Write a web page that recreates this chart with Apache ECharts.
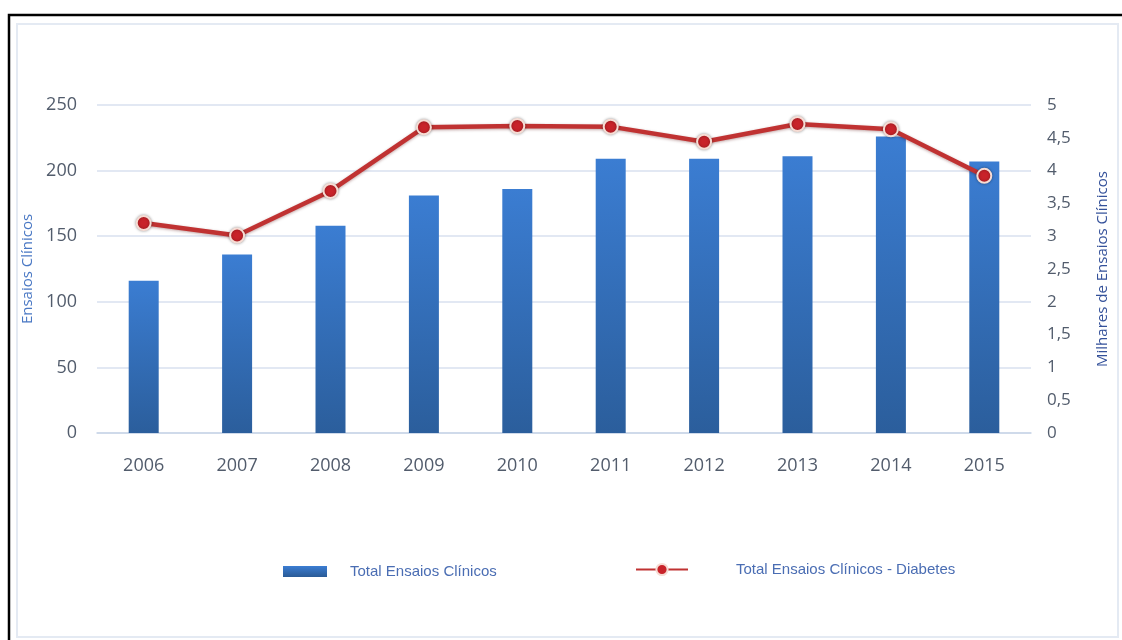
<!DOCTYPE html>
<html>
<head>
<meta charset="utf-8">
<script src="https://cdn.jsdelivr.net/npm/echarts@6/dist/echarts.min.js"></script>
<style>
  html, body { margin: 0; padding: 0; background: #ffffff; }
  #chart { width: 1122px; height: 640px; }
</style>
</head>
<body>
<div id="chart"></div>
<script>
// Anos
const years = ['2006', '2007', '2008', '2009', '2010', '2011', '2012', '2013', '2014', '2015'];
// Total de ensaios clínicos (eixo esquerdo)
const totalEnsaios = [116, 136, 158, 181, 186, 209, 209, 211, 226, 207];
// Ensaios clínicos em diabetes, em milhares (eixo direito)
const ensaiosDiabetes = [3.20, 3.01, 3.69, 4.66, 4.68, 4.67, 4.44, 4.71, 4.63, 3.92];

const seriesNames = ['Total Ensaios Clínicos', 'Total Ensaios Clínicos - Diabetes'];

const barGradient = new echarts.graphic.LinearGradient(0, 0, 0, 1, [
  { offset: 0, color: '#3b7dd2' },
  { offset: 1, color: '#2b5e9c' }
]);
const legendBarGradient = new echarts.graphic.LinearGradient(0, 0, 0, 1, [
  { offset: 0, color: '#3b7dd2' },
  { offset: 1, color: '#2a5a96' }
]);

const chart = echarts.init(document.getElementById('chart'), null, { renderer: 'canvas' });

const labelFont = 'Open Sans, Noto Sans, sans-serif';
const legendFont = 'Liberation Sans Narrow, Liberation Sans, sans-serif';

chart.setOption({
  backgroundColor: '#ffffff',
  animation: false,
  graphic: [
    // moldura exterior
    { type: 'polyline', shape: { points: [[9, 640], [9, 15], [1122, 15]] },
      style: { stroke: '#000000', lineWidth: 2.5, fill: null }, silent: true },
    // moldura interior clara
    { type: 'rect', shape: { x: 17, y: 24, width: 1101, height: 613 },
      style: { stroke: '#e4eaf3', lineWidth: 2, fill: null }, silent: true }
  ],
  grid: { left: 97, right: 91, top: 105, bottom: 207, containLabel: false },
  legend: [
    {
      data: [{ name: seriesNames[0], icon: 'rect', itemStyle: { color: legendBarGradient } }],
      left: 278, top: 559, itemWidth: 44, itemHeight: 11,
      textStyle: { color: '#4a6db3', fontSize: 15, fontFamily: legendFont, padding: [0, 0, 0, 18] }
    },
    {
      data: [seriesNames[1]],
      left: 630, top: 557, itemWidth: 52, itemHeight: 14,
      textStyle: { color: '#4a6db3', fontSize: 15, fontFamily: legendFont, padding: [0, 0, 0, 43] }
    }
  ],
  xAxis: {
    type: 'category',
    data: years,
    axisLine: { show: true, lineStyle: { color: '#c9d5e8', width: 1.5 } },
    axisTick: { show: false },
    axisLabel: { color: '#525c6c', fontSize: 18, fontFamily: labelFont, margin: 24 }
  },
  yAxis: [
    {
      type: 'value', min: 0, max: 250, interval: 50,
      name: 'Ensaios Clínicos', nameLocation: 'middle', nameGap: 60, nameRotate: 90,
      nameTextStyle: { color: '#4a78c4', fontSize: 15, fontFamily: labelFont },
      axisLine: { show: false }, axisTick: { show: false },
      axisLabel: { color: '#525c6c', fontSize: 18, fontFamily: labelFont, margin: 20 },
      splitLine: { lineStyle: { color: '#d8e1ef', width: 1.5 } }
    },
    {
      type: 'value', min: 0, max: 5, interval: 0.5,
      name: 'Milhares de Ensaios Clínicos', nameLocation: 'middle', nameGap: 64, nameRotate: 90,
      nameTextStyle: { color: '#34519a', fontSize: 15, fontFamily: labelFont },
      axisLine: { show: false }, axisTick: { show: false },
      axisLabel: {
        color: '#525c6c', fontSize: 17, fontFamily: labelFont, margin: 16,
        formatter: v => String(v).replace('.', ',')
      },
      splitLine: { show: false }
    }
  ],
  series: [
    {
      name: seriesNames[0],
      type: 'bar',
      data: totalEnsaios,
      yAxisIndex: 0,
      barWidth: 30,
      itemStyle: { color: barGradient }
    },
    {
      name: seriesNames[1],
      type: 'line',
      data: ensaiosDiabetes,
      yAxisIndex: 1,
      symbol: 'circle',
      symbolSize: 14,
      lineStyle: { color: '#c03232', width: 4.5, shadowColor: 'rgba(80,0,0,0.35)', shadowBlur: 3, shadowOffsetY: 1 },
      itemStyle: { color: '#c8232a', borderColor: '#f6dcd4', borderWidth: 2, shadowColor: 'rgba(0,0,0,0.35)', shadowBlur: 3 }
    }
  ]
});
</script>
</body>
</html>
